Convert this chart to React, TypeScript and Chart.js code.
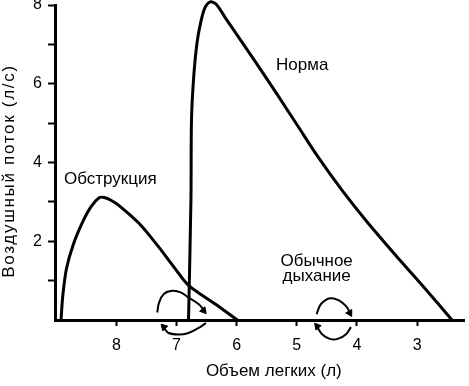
import React, { useEffect, useRef } from 'react';
import { Chart, registerables } from 'chart.js';

Chart.register(...registerables);

// ---- data (volume in litres, flow in l/s) ----
const normalVolume = [6.80, 6.76, 6.75, 6.71, 6.66, 6.60, 6.53, 6.44, 6.34, 6.19, 5.94, 5.69, 5.34, 4.98, 4.65, 4.24, 3.83, 3.28, 2.88, 2.42];
const normalFlow = [0, 3.05, 5.13, 6.26, 7.03, 7.54, 7.92, 8.08, 8.02, 7.68, 7.12, 6.56, 5.76, 4.92, 4.15, 3.28, 2.49, 1.51, 0.82, 0];

const obstructionVolume = [8.92, 8.89, 8.83, 8.72, 8.56, 8.42, 8.28, 8.20, 8.09, 7.95, 7.62, 7.32, 7.02, 6.80, 6.35, 5.99];
const obstructionFlow = [0, 0.62, 1.30, 1.90, 2.49, 2.88, 3.11, 3.11, 3.04, 2.90, 2.45, 1.90, 1.30, 0.88, 0.40, 0];

const obsTidalTopVolume = [7.32, 7.29, 7.21, 7.07, 6.93, 6.80, 6.63, 6.55];
const obsTidalTopFlow = [0.19, 0.44, 0.66, 0.74, 0.70, 0.57, 0.40, 0.26];
const obsTidalBottomVolume = [7.21, 7.13, 6.96, 6.80, 6.63, 6.51];
const obsTidalBottomFlow = [-0.20, -0.33, -0.37, -0.33, -0.20, -0.08];

const normTidalTopVolume = [4.67, 4.60, 4.45, 4.30, 4.18, 4.12];
const normTidalTopFlow = [0.15, 0.40, 0.55, 0.50, 0.35, 0.20];
const normTidalBottomVolume = [4.66, 4.58, 4.45, 4.32, 4.18, 4.10];
const normTidalBottomFlow = [-0.18, -0.36, -0.48, -0.48, -0.36, -0.18];

const arrowVolume = [6.55, 7.21, 4.12, 4.66];
const arrowFlow = [0.24, -0.18, 0.18, -0.16];

const xTicks = [3, 4, 5, 6, 7, 8];
const yTicks = [1, 2, 3, 4, 5, 6, 7, 8];
const yTickLabels = [2, 4, 6, 8];

const noteTexts = ['Норма', 'Обструкция', 'Обычное', 'дыхание'];
const noteVolume = [4.91, 8.10, 4.67, 4.67];
const noteFlow = [6.47, 3.58, 1.50, 1.10];

const xTitle = 'Объем легких (л)';
const yTitle = 'Воздушный поток (л/с)';

const FONT = "'Liberation Sans', Arial, Helvetica, sans-serif";
const ARROW_DATASET = 6;

const pts = (xs: number[], ys: number[]) => xs.map((v, i) => ({ x: v, y: ys[i] }));

const textPlugin = {
  id: 'notesAndTitles',
  beforeDatasetDraw(chart: any, args: any) {
    // let the arrow heads below the x axis be drawn
    if (args.index === ARROW_DATASET) {
      chart.$savedArea = chart.chartArea;
      chart.chartArea = { ...chart.chartArea, bottom: chart.chartArea.bottom + 40 };
    }
  },
  afterDatasetDraw(chart: any, args: any) {
    if (args.index === ARROW_DATASET && chart.$savedArea) {
      chart.chartArea = chart.$savedArea;
      chart.$savedArea = null;
    }
  },
  afterDraw(chart: any) {
    const { ctx, chartArea } = chart;
    const x = chart.scales.x;
    const y = chart.scales.y;
    ctx.save();
    ctx.fillStyle = '#000';
    ctx.font = `17px ${FONT}`;
    ctx.textAlign = 'center';
    ctx.textBaseline = 'middle';
    noteTexts.forEach((t, i) => {
      ctx.fillText(t, x.getPixelForValue(noteVolume[i]), y.getPixelForValue(noteFlow[i]));
    });
    ctx.fillText(xTitle, chartArea.left + (chartArea.right - chartArea.left) * 0.535, chartArea.bottom + 51);
    ctx.translate(9, chartArea.top + (chartArea.bottom - chartArea.top) * 0.527);
    ctx.rotate(-Math.PI / 2);
    try { ctx.letterSpacing = '1.7px'; } catch (e) { /* ignore */ }
    ctx.fillText(yTitle, 0, 0);
    ctx.restore();
  },
};

export default function App() {
  const ref = useRef<HTMLCanvasElement>(null);
  useEffect(() => {
    document.body.style.margin = '0';
    const black = '#000';
    const loose = { top: 40, bottom: 40, left: 40, right: 40 };
    const chart = new Chart(ref.current as HTMLCanvasElement, {
      type: 'line',
      data: {
        datasets: [
          { label: 'Норма', data: pts(normalVolume, normalFlow), borderColor: black, borderWidth: 3, pointRadius: 0, tension: 0.3, fill: false, clip: loose },
          { label: 'Обструкция', data: pts(obstructionVolume, obstructionFlow), borderColor: black, borderWidth: 3, pointRadius: 0, tension: 0.3, fill: false, clip: loose },
          { label: 'tidal obs top', data: pts(obsTidalTopVolume, obsTidalTopFlow), borderColor: black, borderWidth: 2, pointRadius: 0, tension: 0.4, clip: loose },
          { label: 'tidal obs bottom', data: pts(obsTidalBottomVolume, obsTidalBottomFlow), borderColor: black, borderWidth: 2, pointRadius: 0, tension: 0.4, clip: loose },
          { label: 'tidal norm top', data: pts(normTidalTopVolume, normTidalTopFlow), borderColor: black, borderWidth: 2, pointRadius: 0, tension: 0.4, clip: loose },
          { label: 'tidal norm bottom', data: pts(normTidalBottomVolume, normTidalBottomFlow), borderColor: black, borderWidth: 2, pointRadius: 0, tension: 0.4, clip: loose },
          {
            label: 'arrows', data: pts(arrowVolume, arrowFlow), showLine: false,
            pointStyle: 'triangle', pointRadius: 4, rotation: [140, 315, 150, 320] as any,
            backgroundColor: black, borderColor: black, borderWidth: 1, clip: loose,
          },
        ],
      },
      options: {
        animation: false,
        responsive: false,
        events: [],
        layout: { padding: { top: 5, right: 2, left: 0, bottom: 0 } },
        plugins: { legend: { display: false }, tooltip: { enabled: false } },
        scales: {
          x: {
            type: 'linear', reverse: true, min: 2.22, max: 9.02,
            afterBuildTicks: (s: any) => { s.ticks = xTicks.map((v) => ({ value: v })); },
            afterFit: (s: any) => { s.height = 66; s.paddingLeft = 0; s.paddingRight = 0; },
            grid: { drawOnChartArea: false, drawTicks: true, tickLength: 6, tickWidth: 2, tickColor: black },
            border: { display: true, color: black, width: 3 },
            ticks: { color: black, font: { family: FONT, size: 16 }, padding: 10, maxRotation: 0 },
          },
          y: {
            type: 'linear', min: 0, max: 8,
            afterBuildTicks: (s: any) => { s.ticks = yTicks.map((v) => ({ value: v })); },
            afterFit: (s: any) => { s.width = 55; s.paddingTop = 0; s.paddingBottom = 0; },
            grid: { drawOnChartArea: false, drawTicks: true, tickLength: 7, tickWidth: 2, tickColor: black },
            border: { display: true, color: black, width: 3 },
            ticks: {
              color: black, font: { family: FONT, size: 16 }, padding: 6,
              callback: (v: any) => (yTickLabels.includes(Number(v)) ? String(v) : ''),
            },
          },
        },
      },
      plugins: [textPlugin],
    } as any);
    return () => chart.destroy();
  }, []);
  return (
    <div style={{ width: 469, height: 386, background: '#fff' }}>
      <canvas ref={ref} width={469} height={386} style={{ display: 'block' }} />
    </div>
  );
}
